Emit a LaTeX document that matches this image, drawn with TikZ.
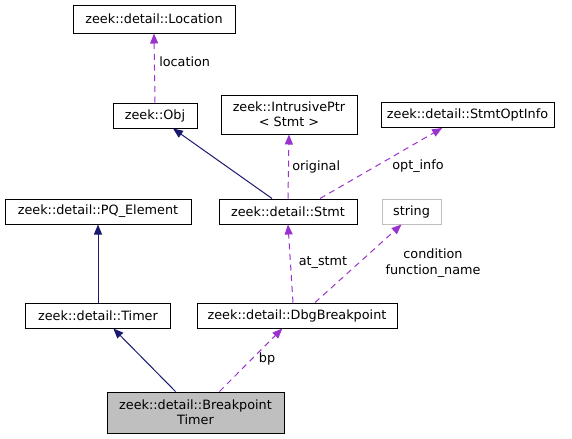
\documentclass[tikz,border=0pt]{standalone}
\usepackage{fontspec}
\setmainfont{DejaVu Sans}
\usetikzlibrary{arrows.meta}
\definecolor{navyc}{HTML}{191970}
\definecolor{purp}{HTML}{9A32CD}
\definecolor{grayb}{HTML}{BFBFBF}
\begin{document}
\begin{tikzpicture}[x=0.75pt,y=-0.75pt,
  font=\fontsize{9.6pt}{11.5pt}\selectfont,
  box/.style={draw=black,line width=0.75pt,fill=white,inner sep=0pt,align=center},
  inh/.style={draw=navyc,line width=0.75pt,-{Triangle[length=7.5pt,width=6pt]}},
  use/.style={draw=purp,line width=0.75pt,dash pattern=on 4.5pt off 3.5pt,-{Triangle[length=7.5pt,width=6pt]}},
  lbl/.style={inner sep=0pt,align=center}]
\useasboundingbox (0,0) rectangle (572,439);
\node[box,minimum width=121.5pt,minimum height=21pt] (loc) at (154,19) {zeek::detail::Location};
\node[box,minimum width=63pt,minimum height=18.75pt] (obj) at (155,115.5) {zeek::Obj};
\node[box,minimum width=102pt,minimum height=29.25pt] (iptr) at (289,114.5) {zeek::IntrusivePtr\\{}< Stmt >};
\node[box,minimum width=129.75pt,minimum height=18.75pt] (opt) at (467.5,115) {zeek::detail::StmtOptInfo};
\node[box,minimum width=139.5pt,minimum height=18.75pt] (pq) at (98,211.5) {zeek::detail::PQ\_Element};
\node[box,minimum width=103.5pt,minimum height=18.75pt] (stmt) at (288,211.5) {zeek::detail::Stmt};
\node[box,draw=grayb,minimum width=44.25pt,minimum height=18.75pt] (str) at (411.5,211.5) {string};
\node[box,minimum width=108.75pt,minimum height=18.75pt] (timer) at (98,315.5) {zeek::detail::Timer};
\node[box,minimum width=150pt,minimum height=18.75pt] (dbg) at (297,315.5) {zeek::detail::DbgBreakpoint};
\node[box,fill=grayb,minimum width=132.75pt,minimum height=30.75pt] (bt) at (195.5,412.5) {zeek::detail::Breakpoint\\Timer};

\draw[use] (obj.north) -- (loc.south);
\node[lbl,anchor=west] (l1) at (159,62) {location};

\draw[inh] ([xshift=-12pt]stmt.north) -- ([xshift=13.5pt]obj.south);
\draw[use] (stmt.north) -- (iptr.south);
\node[lbl,anchor=west] (l2) at (292,166.5) {original};
\draw[use] ([xshift=24pt]stmt.north) -- ([xshift=-19pt]opt.south);
\node[lbl] (l3) at (418,166.5) {opt\_info};

\draw[inh] (timer.north) -- (pq.south);
\draw[use] ([xshift=-3pt]dbg.north) -- (stmt.south);
\node[lbl] (l4) at (323,263) {at\_stmt};
\draw[use] ([xshift=13.5pt]dbg.north) -- ([xshift=-7.5pt]str.south);
\node[lbl] (l5) at (433,263) {condition\\function\_name};

\draw[inh] ([xshift=-15pt]bt.north) -- ([xshift=11.5pt]timer.south);
\draw[use] ([xshift=18pt]bt.north) -- ([xshift=-11pt]dbg.south);
\node[lbl] (l6) at (267,359) {bp};
\end{tikzpicture}
\end{document}
